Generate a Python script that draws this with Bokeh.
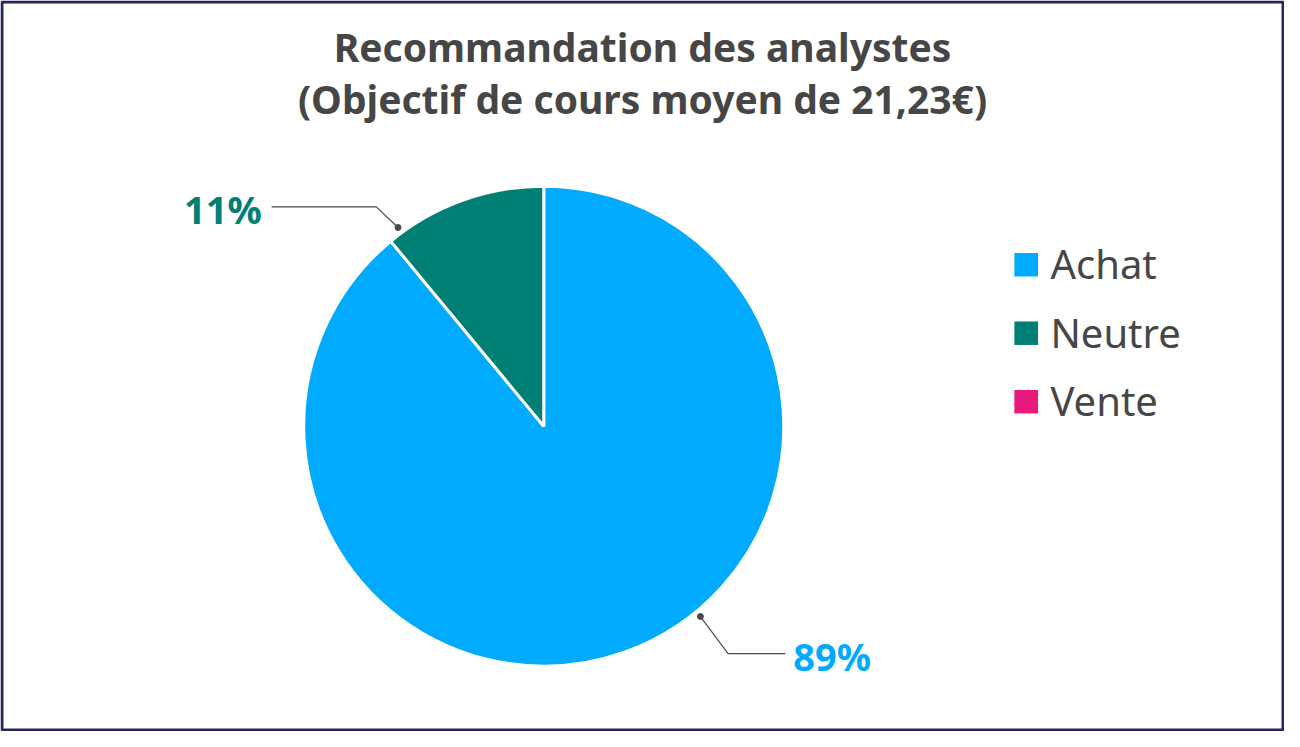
import math
from bokeh.plotting import figure
from bokeh.models import Range1d, ColumnDataSource
from bokeh.core.properties import value
from bokeh.embed import file_html
from bokeh.resources import INLINE

# ---- data ----
categories = ["Achat", "Neutre", "Vente"]
shares = [89, 11, 0]
colors = ["#00aaff", "#007f74", "#e8197d"]
title_lines = ["Recommandation des analystes", "(Objectif de cours moyen de 21,23€)"]

# ---- layout: data space mirrors the 1300x747 reference, y up ----
W, H = 1284, 731
RW, RH = 1300, 747
def X(rx): return rx
def Y(ry): return RH - ry

p = figure(width=W, height=H, x_range=Range1d(0, RW), y_range=Range1d(0, RH),
           output_backend="svg", toolbar_location=None, min_border=0)
p.axis.visible = False
p.grid.visible = False
p.outline_line_color = None
p.background_fill_color = "white"
p.border_fill_color = "white"

# frame border
p.quad(left=[1.5], right=[RW - 1.5], bottom=[1.5], top=[RH - 1.5],
       fill_color=None, line_color="#25255f", line_width=3)

# title
p.text(x=[X(650), X(650)], y=[Y(47), Y(100)], text=title_lines,
       text_font=value("Noto Sans"), text_font_style="bold", text_font_size="39px",
       text_color="#464646", text_align="center", text_baseline="middle")

# pie
cx, cy, R = X(550), Y(435), 243
total = sum(shares)
starts, ends, cum = [], [], 0.0
for s in shares:
    c0 = cum / total
    cum += s
    c1 = cum / total
    starts.append(math.pi / 2 - 2 * math.pi * c1)
    ends.append(math.pi / 2 - 2 * math.pi * c0)
nz = [i for i, s in enumerate(shares) if s > 0]
src_nz = ColumnDataSource(dict(x=[cx] * len(nz), y=[cy] * len(nz),
                               start=[starts[i] for i in nz], end=[ends[i] for i in nz],
                               color=[colors[i] for i in nz]))
p.wedge(x="x", y="y", radius=R, start_angle="start", end_angle="end",
        fill_color="color", line_color="white", line_width=3, source=src_nz)

# data labels with connectors
label_specs = [
    # (index, dot angle deg, elbow dx, elbow dy, horizontal length, side)
    (1, 126.0, -22, 21, -106, "right"),
    (0, -50.8, 28, -38, 58, "left"),
]
for idx, ang, edx, edy, hl, side in label_specs:
    r = R + 8
    dx_ = cx + r * math.cos(math.radians(ang))
    dy_ = cy + r * math.sin(math.radians(ang))
    ex, ey = dx_ + edx, dy_ + edy
    hx = ex + hl
    p.line(x=[dx_, ex, hx], y=[dy_, ey, ey], line_color="#4a4a4a", line_width=1.2)
    p.scatter(x=[dx_], y=[dy_], size=6, color="#4a4a4a")
    tx = hx - 10 if side == "right" else hx + 8
    p.text(x=[tx], y=[ey - 2], text=[f"{shares[idx]}%"],
           text_font=value("Noto Sans"), text_font_style="bold", text_font_size="38px",
           text_color=colors[idx], text_align=side, text_baseline="middle")

# legend
leg_y = [Y(270), Y(340), Y(410)]
p.rect(x=[X(1038.5)] * 3, y=leg_y, width=24, height=24, fill_color=colors, line_color=None)
p.text(x=[X(1063)] * 3, y=[v + 1 for v in leg_y], text=categories,
       text_font=value("Noto Sans"), text_font_size="40px", text_color="#464646",
       text_align="left", text_baseline="middle")

open("out.html", "w").write(file_html(p, INLINE))
